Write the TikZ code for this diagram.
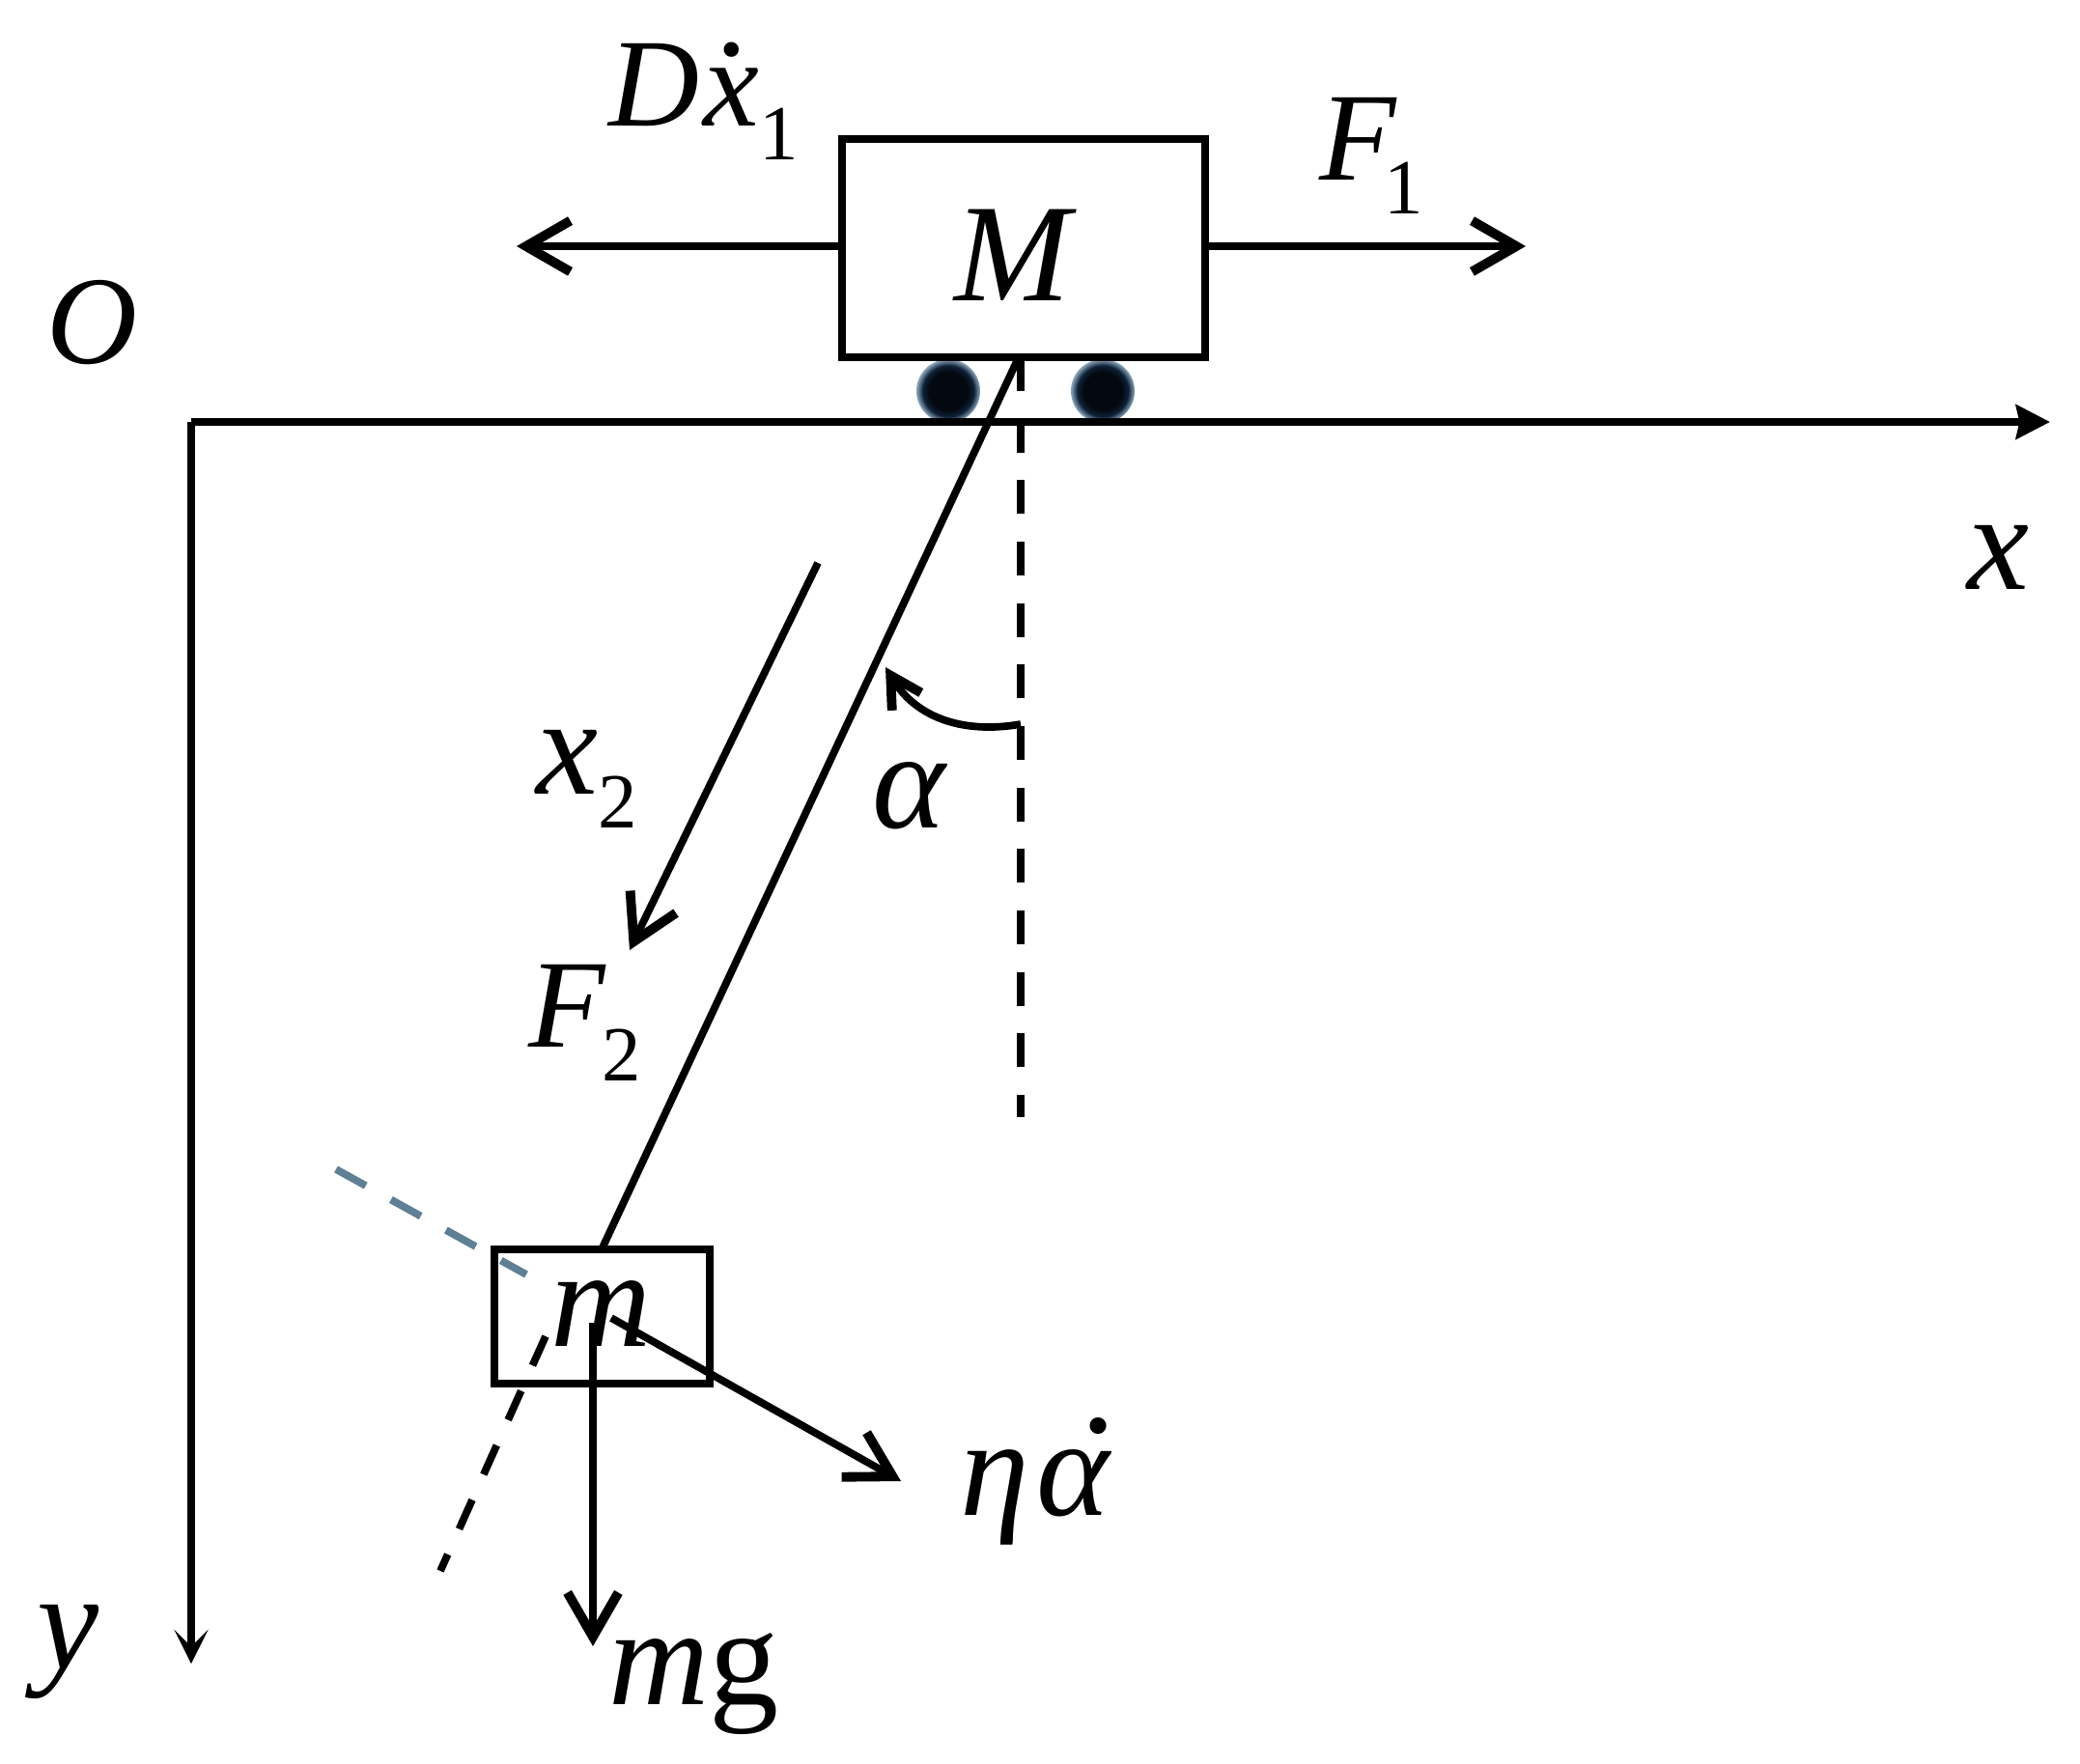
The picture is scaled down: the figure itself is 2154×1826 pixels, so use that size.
\documentclass[tikz,border=0pt]{standalone}
\usepackage{fontspec}
\setmainfont{Liberation Serif}
\usetikzlibrary{arrows.meta}
\definecolor{wheel area}{HTML}{04080F}
\definecolor{wheel mid}{HTML}{0D2238}
\definecolor{wheel edge}{HTML}{8FA9BE}
\definecolor{guide}{HTML}{5F7F95}
\pgfdeclareradialshading{wheelglow}{\pgfpointorigin}{color(0bp)=(wheel area); color(15bp)=(wheel area); color(20bp)=(wheel mid); color(25bp)=(wheel edge); color(50bp)=(wheel edge)}
\newcommand{\dotover}[3][.1em]{\makebox[0pt][l]{\hspace{#1}\raisebox{#2}{\textup{.}}}#3}
\newcommand{\lowidx}[1]{\raisebox{-10pt}{\fontsize{23}{23}\selectfont\textup{#1}}}
\tikzset{body/.style={draw, line width=2.3pt, inner sep=0pt},
    wheel/.style={circle, shading=wheelglow, inner sep=0pt, minimum size=.66cm},
    force/.style={line width=2.2pt, -{Straight Barb[length=13pt,width=15pt,line width=2.8pt]}},
    axis/.style={line width=2.4pt},
    dashline/.style={line width=2.5pt, dash pattern=on 10pt off 8.1pt},
    sym/.style={font=\fontsize{41}{41}\selectfont\itshape, inner sep=0pt, anchor=base west},
    smallsym/.style={sym, font=\fontsize{37}{37}\selectfont\itshape}}

\begin{document}
\begin{tikzpicture}[x=.01cm, y=-.01cm]
    \useasboundingbox (0,0) rectangle (2154,1826);
    % guide lines and wheels
    \coordinate (pivot) at (1057,370);
    \coordinate (vend) at (1057,1157);
    \coordinate (rodtop) at (1054,372);
    \coordinate (rodend) at (624,1292);
    \coordinate (extstart) at (565,1384);
    \coordinate (extend) at (456,1627);
    \coordinate (perpstart) at (348,1211);
    \coordinate (perpend) at (545,1320);
    \draw[dashline] (pivot) -- (vend);
    \node[wheel] (wheelA) at (982,405) {};
    \node[wheel] (wheelB) at (1142,405) {};
    % axes
    \coordinate (origin) at (198,437);
    \coordinate (xend) at (2123,437);
    \coordinate (yend) at (198,1723);
    \draw[axis, -{Stealth[length=10pt,width=10pt,inset=1pt]}] (origin) -- (xend);
    \draw[axis, -{Stealth[length=10pt,width=10pt,inset=5pt]}] (origin) -- (yend);
    \draw[line width=2.2pt] (rodtop) -- (rodend);
    % bodies
    \node[body, minimum width=3.75cm, minimum height=2.26cm] (cart) at (1060,257) {};
    \node[body, minimum width=2.23cm, minimum height=1.39cm] (mass) at (623.5,1363.5) {};
    \draw[line width=2.2pt, guide, dash pattern=on 10pt off 8.5pt] (perpstart) -- (perpend);
    \draw[line width=2.2pt, dash pattern=on 9.4pt off 8.2pt] (extstart) -- (extend);
    % forces
    \coordinate (drag) at (535,255);
    \coordinate (push) at (1580,255);
    \coordinate (xtop) at (847,583);
    \coordinate (xtip) at (652,984);
    \coordinate (etatip) at (933,1534);
    \coordinate (mgtip) at (614,1705);
    \coordinate (loadpt) at (633,1365);
    \coordinate (weightpt) at (614,1370);
    \draw[force] (cart.west |- drag) -- (drag);
    \draw[force] (cart.east |- push) -- (push);
    \draw[force] (xtop) -- (xtip);
    \draw[force] (loadpt) -- (etatip);
    \draw[force] (weightpt) -- (mgtip);
    % angle
    \coordinate (arcstart) at (1057,750);
    \coordinate (arcend) at (917,691);
    \draw[line width=2.2pt, -{Straight Barb[length=9pt,width=10pt,line width=2.8pt]}] (arcstart) .. controls (1000,760) and (950,745) .. (arcend);
    % labels
    \node[smallsym] (labelD) at (630,130) {D\hspace{.03em}\dotover{.56em}{x}\lowidx{1}};
    \node[smallsym] (labelFa) at (1366,186) {F\hspace{-.1em}\lowidx{1}};
    \node[sym] (labelM) at (988,311) {M};
    \node[smallsym] (labelO) at (48,376) {O};
    \node[sym] (labelx) at (2037,610) {x};
    \node[sym] (labely) at (38,1728) {y};
    \node[sym] (labelXb) at (555,822) {x\lowidx{2}};
    \node[sym] (labelAlpha) at (903,857) {α};
    \node[smallsym] (labelFb) at (547,1084) {F\hspace{-.03em}\lowidx{2}};
    \node[sym] (labelm) at (570,1394) {m};
    \node[sym] (labelEta) at (994,1569) {η\hspace{.05em}\dotover[.32em]{.59em}{α}};
    \node[sym] (labelmg) at (630,1765) {m\textup{g}};
\end{tikzpicture}
\end{document}
